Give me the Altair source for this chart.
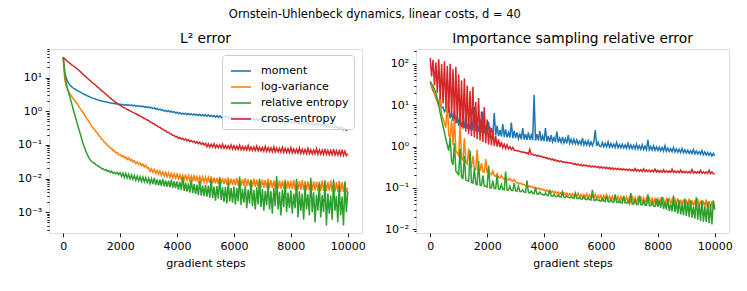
import altair as alt
import pandas as pd

steps = list(range(0, 10001, 50))
methods = ["moment", "log-variance", "relative entropy", "cross-entropy"]
colors = ["#1f77b4", "#ff7f0e", "#2ca02c", "#d62728"]

# ---- L2 error (left panel), one value every 50 gradient steps ----
l2_moment = [
    40, 15, 10, 7.8, 6.6, 5.8, 5.3, 4.9, 4.6, 4.35, 4.1, 3.9, 3.7, 3.5, 3.3, 3.15, 3.0, 2.87, 2.75, 2.62,
    2.5, 2.42, 2.37, 2.28, 2.22, 2.1, 2.07, 2.0, 1.99, 1.9, 1.9, 1.84, 1.83, 1.76, 1.77, 1.7, 1.72, 1.64, 1.65, 1.58,
    1.63, 1.53, 1.6, 1.52, 1.58, 1.49, 1.56, 1.47, 1.55, 1.45, 1.52, 1.42, 1.48, 1.39, 1.45, 1.35, 1.42, 1.32, 1.38, 1.28,
    1.34, 1.25, 1.3, 1.2, 1.26, 1.16, 1.21, 1.1, 1.16, 1.06, 1.1, 1.01, 1.06, 0.97, 1.03, 0.94, 1.0, 0.92, 0.97, 0.88,
    0.93, 0.85, 0.9, 0.82, 0.88, 0.81, 0.87, 0.79, 0.86, 0.78, 0.84, 0.77, 0.83, 0.76, 0.82, 0.75, 0.81, 0.73, 0.8, 0.72,
    0.79, 0.71, 0.78, 0.7, 0.76, 0.69, 0.75, 0.67, 0.74, 0.66, 0.73, 0.65, 0.72, 0.64, 0.71, 0.63, 0.7, 0.62, 0.69, 0.61,
    0.68, 0.6, 0.67, 0.59, 0.66, 0.58, 0.65, 0.57, 0.64, 0.56, 0.63, 0.55, 0.62, 0.55, 0.61, 0.54, 0.6, 0.53, 0.59, 0.52,
    0.58, 0.51, 0.57, 0.5, 0.56, 0.5, 0.55, 0.49, 0.54, 0.48, 0.54, 0.47, 0.53, 0.47, 0.52, 0.46, 0.51, 0.45, 0.51, 0.45,
    0.5, 0.44, 0.49, 0.44, 0.48, 0.43, 0.48, 0.42, 0.47, 0.42, 0.46, 0.41, 0.46, 0.4, 0.45, 0.4, 0.44, 0.39, 0.43, 0.38,
    0.42, 0.37, 0.41, 0.36, 0.4, 0.35, 0.39, 0.34, 0.38, 0.33, 0.37, 0.32, 0.35, 0.31, 0.34, 0.3, 0.33, 0.28, 0.31, 0.27,
    0.29]
l2_logvar = [
    40, 9.5, 5.6, 4.5, 3.7, 3.15, 2.7, 2.4, 2.1, 1.85, 1.6, 1.4, 1.2, 1.04, 0.9, 0.77, 0.66, 0.57, 0.49, 0.42,
    0.36, 0.315, 0.285, 0.245, 0.225, 0.19, 0.175, 0.148, 0.138, 0.118, 0.113, 0.096, 0.092, 0.08, 0.079, 0.067, 0.068, 0.058, 0.059, 0.05,
    0.052, 0.045, 0.048, 0.041, 0.044, 0.037, 0.041, 0.034, 0.037, 0.031, 0.034, 0.028, 0.031, 0.026, 0.029, 0.024, 0.027, 0.022, 0.025, 0.0205,
    0.021, 0.0165, 0.0195, 0.0152, 0.0185, 0.0142, 0.0172, 0.0135, 0.0166, 0.0125, 0.0158, 0.0119, 0.0155, 0.0112, 0.0148, 0.0108, 0.0142, 0.0104, 0.0138, 0.0101,
    0.0135, 0.0098, 0.0128, 0.0092, 0.0125, 0.009, 0.0131, 0.0088, 0.0122, 0.0085, 0.0118, 0.0083, 0.0126, 0.0082, 0.0115, 0.008, 0.0113, 0.0078, 0.0112, 0.0077,
    0.011, 0.0076, 0.0108, 0.0074, 0.0115, 0.0072, 0.0105, 0.0071, 0.0104, 0.007, 0.0112, 0.0068, 0.0102, 0.0068, 0.0101, 0.0066, 0.0108, 0.0065, 0.0099, 0.0064,
    0.0098, 0.0063, 0.0105, 0.0062, 0.0096, 0.0061, 0.0096, 0.006, 0.0102, 0.0059, 0.0094, 0.0058, 0.0093, 0.0057, 0.0099, 0.0056, 0.0092, 0.0055, 0.0091, 0.0055,
    0.0092, 0.0054, 0.009, 0.0053, 0.0097, 0.0052, 0.0089, 0.0052, 0.0088, 0.0051, 0.0094, 0.005, 0.0087, 0.005, 0.0086, 0.0049, 0.0092, 0.0049, 0.0085, 0.0048,
    0.0085, 0.0048, 0.0091, 0.0047, 0.0084, 0.0047, 0.0083, 0.0046, 0.009, 0.0046, 0.0083, 0.0045, 0.0082, 0.0045, 0.0088, 0.0044, 0.0082, 0.0044, 0.0081, 0.0043,
    0.0081, 0.0043, 0.0087, 0.0043, 0.008, 0.0042, 0.0079, 0.0042, 0.0086, 0.0041, 0.0079, 0.0041, 0.0078, 0.004, 0.0085, 0.004, 0.0078, 0.004, 0.0077, 0.0039,
    0.0052]
l2_relent = [
    40, 14, 7, 4.8, 3.3, 2.35, 1.65, 1.15, 0.81, 0.58, 0.41, 0.29, 0.21, 0.15, 0.107, 0.082, 0.063, 0.051, 0.042, 0.036,
    0.032, 0.0295, 0.0285, 0.0255, 0.0245, 0.0222, 0.022, 0.0196, 0.0196, 0.0178, 0.0186, 0.0162, 0.0172, 0.0152, 0.0166, 0.0143, 0.0153, 0.0137, 0.0151, 0.013,
    0.015, 0.0115, 0.0145, 0.0108, 0.014, 0.0103, 0.0133, 0.0098, 0.0128, 0.0094, 0.0123, 0.0089, 0.0118, 0.0086, 0.0114, 0.0082, 0.011, 0.0079, 0.0106, 0.0076,
    0.0102, 0.0071, 0.0099, 0.0068, 0.0104, 0.0065, 0.0094, 0.0063, 0.0092, 0.006, 0.0098, 0.0058, 0.0088, 0.0057, 0.0086, 0.0055, 0.0093, 0.0053, 0.0083, 0.0052,
    0.0082, 0.0047, 0.0079, 0.0045, 0.011, 0.0043, 0.0075, 0.0041, 0.0072, 0.0038, 0.0092, 0.0037, 0.0069, 0.0035, 0.0066, 0.0032, 0.0085, 0.0031, 0.0062, 0.003,
    0.0065, 0.0029, 0.0062, 0.0027, 0.0094, 0.0026, 0.0058, 0.0022, 0.006, 0.0025, 0.0105, 0.0023, 0.0055, 0.002, 0.0057, 0.0018, 0.0078, 0.0021, 0.0052, 0.0019,
    0.0058, 0.0017, 0.0052, 0.0021, 0.0115, 0.0016, 0.0049, 0.0019, 0.0062, 0.0013, 0.0047, 0.0018, 0.0088, 0.0015, 0.0045, 0.0012, 0.0055, 0.0017, 0.0098, 0.0014,
    0.0048, 0.0011, 0.0043, 0.0016, 0.0075, 0.0012, 0.0042, 0.0009, 0.0052, 0.0015, 0.0118, 0.0012, 0.004, 0.0008, 0.0047, 0.0014, 0.0082, 0.001, 0.0038, 0.0013,
    0.0045, 0.0009, 0.0036, 0.0013, 0.0098, 0.0007, 0.0042, 0.0011, 0.0035, 0.0006, 0.0065, 0.0012, 0.0034, 0.0008, 0.0105, 0.001, 0.0039, 0.0005, 0.0033, 0.0011,
    0.0072, 0.0007, 0.0032, 0.001, 0.0088, 0.0004, 0.0036, 0.0009, 0.0031, 0.0006, 0.0095, 0.0011, 0.003, 0.0005, 0.0062, 0.0008, 0.0029, 0.0004, 0.0082, 0.001,
    0.0042]
l2_crossent = [
    40, 36, 33, 30, 28, 26, 24, 22.5, 21, 19.5, 18, 16.5, 15, 13.7, 12.5, 11.5, 10.5, 9.6, 8.8, 8.1,
    7.4, 6.8, 6.3, 5.8, 5.3, 4.9, 4.5, 4.1, 3.8, 3.5, 3.2, 2.95, 2.7, 2.5, 2.3, 2.12, 1.95, 1.82, 1.7, 1.6,
    1.5, 1.41, 1.33, 1.26, 1.2, 1.13, 1.07, 1.02, 0.97, 0.92, 0.88, 0.84, 0.8, 0.76, 0.72, 0.68, 0.65, 0.61, 0.58, 0.55,
    0.53, 0.48, 0.47, 0.43, 0.42, 0.38, 0.375, 0.34, 0.335, 0.3, 0.296, 0.268, 0.266, 0.238, 0.236, 0.212, 0.21, 0.19, 0.19, 0.172,
    0.178, 0.158, 0.166, 0.148, 0.158, 0.14, 0.15, 0.132, 0.143, 0.125, 0.135, 0.12, 0.13, 0.113, 0.124, 0.108, 0.12, 0.104, 0.114, 0.099,
    0.11, 0.088, 0.107, 0.086, 0.104, 0.085, 0.108, 0.083, 0.1, 0.082, 0.099, 0.08, 0.104, 0.079, 0.096, 0.078, 0.095, 0.077, 0.1, 0.075,
    0.094, 0.074, 0.092, 0.073, 0.098, 0.072, 0.09, 0.071, 0.089, 0.07, 0.095, 0.069, 0.087, 0.068, 0.086, 0.068, 0.092, 0.067, 0.085, 0.066,
    0.084, 0.065, 0.09, 0.064, 0.083, 0.064, 0.082, 0.063, 0.087, 0.062, 0.08, 0.062, 0.079, 0.061, 0.085, 0.06, 0.078, 0.06, 0.077, 0.059,
    0.083, 0.058, 0.076, 0.058, 0.075, 0.057, 0.081, 0.056, 0.074, 0.056, 0.073, 0.055, 0.079, 0.055, 0.072, 0.054, 0.071, 0.054, 0.077, 0.053,
    0.071, 0.053, 0.07, 0.052, 0.076, 0.052, 0.069, 0.051, 0.068, 0.051, 0.074, 0.05, 0.067, 0.05, 0.066, 0.049, 0.072, 0.049, 0.065, 0.048,
    0.055]

# ---- Importance sampling relative error (right panel) ----
is_moment = [
    37, 28, 22, 19, 15, 14, 11, 12, 8.5, 9, 7, 8, 5.8, 9.5, 4.8, 6.5, 4.2, 7.5, 3.6, 5.5,
    3.2, 5.5, 3.0, 4.2, 2.8, 6, 2.7, 3.6, 2.5, 4.5, 2.45, 9, 2.35, 3.5, 2.3, 4.5, 2.2, 7, 2.1, 3.2,
    2.0, 4, 1.95, 2.8, 1.9, 6.5, 1.85, 3.2, 1.8, 2.5, 1.75, 3.5, 1.7, 2.6, 1.68, 2.2, 1.65, 3.8, 1.6, 2.4,
    1.6, 2.2, 1.55, 2.0, 1.5, 2.8, 1.48, 2.0, 1.45, 2.2, 1.45, 1.9, 1.42, 18, 1.4, 2.0, 1.4, 2.4, 1.38, 1.8,
    1.36, 2.8, 1.33, 1.8, 1.3, 1.9, 1.3, 1.65, 1.28, 2.3, 1.26, 1.6, 1.25, 1.7, 1.23, 1.55, 1.2, 1.9, 1.2, 1.5,
    1.18, 1.5, 1.16, 1.45, 1.14, 1.35, 1.12, 1.6, 1.1, 1.35, 1.08, 1.4, 1.06, 1.3, 1.05, 1.3, 2.5, 1.03, 1.28, 1.02,
    1.0, 1.25, 0.99, 1.2, 0.98, 1.3, 0.97, 1.18, 0.96, 1.15, 0.95, 1.25, 0.94, 1.12, 0.93, 1.15, 0.92, 1.1, 0.91, 1.2,
    0.9, 1.1, 0.89, 1.08, 0.88, 1.15, 0.87, 1.05, 0.86, 1.1, 0.85, 1.02, 0.84, 1.45, 0.83, 1.0, 0.82, 1.05, 0.81, 0.98,
    0.8, 0.97, 0.79, 0.95, 0.78, 1.05, 0.77, 0.92, 0.76, 0.9, 0.75, 0.95, 0.74, 0.88, 0.73, 0.86, 0.72, 0.9, 0.71, 0.84,
    0.7, 0.82, 0.69, 0.8, 0.68, 0.85, 0.67, 0.78, 0.66, 0.76, 0.65, 0.8, 0.63, 0.74, 0.62, 0.72, 0.61, 0.7, 0.59, 0.68,
    0.6]
is_logvar = [
    37, 30, 24, 19, 15, 12, 9.5, 18, 6, 4.7, 3.7, 2.9, 13, 1.9, 1.6, 4.5, 1.1, 5, 0.8, 0.7,
    0.6, 3.5, 0.52, 0.47, 1.6, 0.42, 0.38, 0.9, 0.34, 0.32, 0.6, 0.3, 0.28, 0.85, 0.27, 0.26, 0.4, 0.25, 0.24, 0.5,
    0.23, 0.3, 0.22, 0.21, 0.26, 0.2, 0.19, 0.22, 0.18, 0.175, 0.2, 0.17, 0.165, 0.18, 0.16, 0.155, 0.17, 0.15, 0.145, 0.16,
    0.14, 0.13, 0.135, 0.125, 0.13, 0.118, 0.122, 0.112, 0.118, 0.107, 0.112, 0.103, 0.108, 0.099, 0.104, 0.095, 0.1, 0.092, 0.096, 0.089,
    0.092, 0.082, 0.09, 0.08, 0.087, 0.077, 0.084, 0.075, 0.082, 0.073, 0.08, 0.071, 0.078, 0.069, 0.076, 0.068, 0.075, 0.066, 0.073, 0.065,
    0.073, 0.062, 0.072, 0.061, 0.075, 0.06, 0.07, 0.059, 0.069, 0.058, 0.072, 0.057, 0.068, 0.056, 0.067, 0.056, 0.07, 0.055, 0.066, 0.054,
    0.066, 0.052, 0.065, 0.051, 0.068, 0.05, 0.064, 0.05, 0.063, 0.049, 0.067, 0.048, 0.062, 0.048, 0.062, 0.047, 0.065, 0.047, 0.061, 0.046,
    0.06, 0.046, 0.064, 0.045, 0.059, 0.045, 0.058, 0.044, 0.063, 0.044, 0.057, 0.043, 0.057, 0.043, 0.061, 0.042, 0.056, 0.042, 0.055, 0.042,
    0.055, 0.041, 0.059, 0.041, 0.054, 0.04, 0.054, 0.04, 0.058, 0.04, 0.053, 0.039, 0.053, 0.039, 0.057, 0.038, 0.052, 0.038, 0.052, 0.038,
    0.051, 0.037, 0.055, 0.037, 0.05, 0.036, 0.05, 0.036, 0.054, 0.036, 0.049, 0.035, 0.049, 0.035, 0.053, 0.035, 0.048, 0.034, 0.048, 0.034,
    0.04]
is_relent = [
    37, 33, 29, 24, 20, 14, 10, 6.5, 4.5, 3.1, 2.2, 1.5, 1.1, 0.8, 1.6, 0.45, 0.36, 1.2, 0.26, 0.23,
    0.21, 0.9, 0.18, 0.17, 0.6, 0.155, 0.15, 0.145, 0.8, 0.135, 0.13, 0.3, 0.125, 0.12, 0.45, 0.118, 0.115, 0.2, 0.112, 0.11,
    0.105, 0.35, 0.1, 0.1, 0.15, 0.098, 0.096, 0.2, 0.094, 0.093, 0.12, 0.092, 0.09, 0.25, 0.089, 0.088, 0.11, 0.087, 0.086, 0.13,
    0.085, 0.084, 0.11, 0.082, 0.081, 0.09, 0.079, 0.078, 0.15, 0.077, 0.076, 0.085, 0.074, 0.073, 0.1, 0.072, 0.071, 0.08, 0.07, 0.069,
    0.067, 0.075, 0.066, 0.065, 0.09, 0.064, 0.063, 0.07, 0.062, 0.062, 0.068, 0.061, 0.06, 0.08, 0.06, 0.059, 0.064, 0.059, 0.058, 0.062,
    0.057, 0.056, 0.075, 0.056, 0.055, 0.06, 0.054, 0.054, 0.062, 0.053, 0.052, 0.058, 0.052, 0.051, 0.09, 0.051, 0.05, 0.055, 0.05, 0.049,
    0.048, 0.056, 0.048, 0.047, 0.065, 0.047, 0.046, 0.052, 0.046, 0.045, 0.07, 0.045, 0.044, 0.05, 0.044, 0.044, 0.062, 0.043, 0.043, 0.048,
    0.042, 0.075, 0.041, 0.041, 0.05, 0.04, 0.04, 0.065, 0.039, 0.039, 0.048, 0.038, 0.038, 0.07, 0.037, 0.037, 0.045, 0.036, 0.036, 0.055,
    0.035, 0.05, 0.033, 0.06, 0.031, 0.045, 0.03, 0.055, 0.028, 0.04, 0.027, 0.065, 0.026, 0.045, 0.024, 0.05, 0.023, 0.04, 0.022, 0.055,
    0.021, 0.045, 0.02, 0.05, 0.019, 0.035, 0.018, 0.06, 0.017, 0.04, 0.016, 0.05, 0.015, 0.035, 0.015, 0.045, 0.014, 0.04, 0.013, 0.05,
    0.03]
is_crossent = [
    140, 50, 125, 30, 110, 20, 130, 14, 100, 11, 115, 8.5, 90, 6.8, 100, 5.5, 75, 4.5, 85, 3.8,
    55, 3.2, 40, 2.7, 45, 2.3, 30, 2.0, 22, 1.8, 28, 1.65, 12, 1.5, 15, 1.4, 7, 1.3, 9, 1.2,
    4.5, 1.12, 3, 1.08, 2.5, 1.04, 1.8, 1.0, 1.5, 0.97, 1.3, 0.94, 1.15, 0.91, 1.1, 0.88, 1.0, 0.85, 0.95, 0.82,
    0.82, 0.78, 0.8, 0.75, 0.76, 0.72, 0.74, 0.69, 0.71, 0.66, 0.85, 0.64, 0.66, 0.61, 0.63, 0.59, 0.61, 0.57, 0.59, 0.55,
    0.56, 0.53, 0.54, 0.5, 0.52, 0.48, 0.5, 0.46, 0.48, 0.44, 0.46, 0.43, 0.45, 0.42, 0.43, 0.41, 0.42, 0.4, 0.41, 0.39,
    0.4, 0.37, 0.39, 0.36, 0.38, 0.35, 0.37, 0.34, 0.36, 0.34, 0.355, 0.33, 0.35, 0.32, 0.34, 0.32, 0.335, 0.31, 0.33, 0.305,
    0.325, 0.3, 0.32, 0.295, 0.315, 0.29, 0.31, 0.285, 0.305, 0.28, 0.3, 0.28, 0.3, 0.275, 0.295, 0.27, 0.29, 0.27, 0.285, 0.265,
    0.285, 0.26, 0.28, 0.258, 0.295, 0.255, 0.278, 0.252, 0.275, 0.25, 0.29, 0.25, 0.272, 0.248, 0.27, 0.246, 0.268, 0.245, 0.285, 0.244,
    0.265, 0.242, 0.262, 0.24, 0.275, 0.24, 0.26, 0.238, 0.258, 0.237, 0.285, 0.236, 0.257, 0.235, 0.255, 0.234, 0.27, 0.233, 0.254, 0.232,
    0.252, 0.231, 0.25, 0.23, 0.28, 0.229, 0.249, 0.228, 0.248, 0.227, 0.265, 0.226, 0.246, 0.225, 0.245, 0.224, 0.27, 0.223, 0.244, 0.222,
    0.22]

x_ticks = [0, 2000, 4000, 6000, 8000, 10000]
x_domain = [-500, 10500]
l2_domain = [10 ** -3.62, 10 ** 1.85]
is_domain = [10 ** -2.09, 10 ** 2.36]
superscripts = {-3: "10\u207b\u00b3", -2: "10\u207b\u00b2", -1: "10\u207b\u00b9", 0: "10\u2070",
                1: "10\u00b9", 2: "10\u00b2"}

FONT = "DejaVu Sans"


def long_table(series):
    rows = []
    for m, vals in zip(methods, series):
        assert len(vals) == len(steps), (m, len(vals))
        for s, v in zip(steps, vals):
            rows.append({"step": s, "value": v, "method": m})
    return pd.DataFrame(rows)


def log_ticks(domain):
    vals = []
    for e in range(-5, 4):
        for m in range(1, 10):
            v = float(f"{m}e{e}")
            if domain[0] <= v <= domain[1]:
                vals.append(v)
    return vals


E = "round(log(datum.value)/LN10)"
MAJOR = f"abs(log(datum.value)/LN10 - {E}) < 1e-6"


def label_expr():
    expr = "''"
    for e, s in superscripts.items():
        expr = f"({E} == {e}) ? '{s}' : {expr}"
    return f"({MAJOR}) ? ({expr}) : ''"


def panel(series, domain, title, with_legend):
    df = long_table(series)
    yaxis = alt.Axis(
        values=log_ticks(domain), labelExpr=label_expr(), grid=False, domain=False,
        tickSize={"condition": {"test": MAJOR, "value": 3.8}, "value": 2.2},
        tickWidth=0.9, tickColor="black", labelFontSize=11, labelColor="black",
        labelPadding=3.5, title=None, labelFont=FONT,
    )
    xaxis = alt.Axis(
        values=x_ticks, format="d", grid=False, domain=False, tickSize=3.8, tickWidth=0.9,
        tickColor="black", labelFontSize=11, labelColor="black", labelPadding=3.5,
        title="gradient steps", titleFontSize=11, titleFontWeight="normal", titleColor="black",
        titlePadding=6, labelFont=FONT, titleFont=FONT,
    )
    if with_legend:
        legend = alt.Legend(
            orient="none", legendX=173, legendY=6, title=None, symbolType="stroke",
            symbolSize=400, symbolStrokeWidth=1.6, symbolOffset=3, labelFontSize=11, labelFont=FONT,
            labelColor="black", strokeColor="#cccccc", fillColor="rgba(255,255,255,0.8)",
            padding=5, cornerRadius=3, labelOffset=9, rowPadding=-1, labelLimit=300,
        )
    else:
        legend = None
    layers = []
    for m in methods:
        layers.append(
            alt.Chart(df)
            .transform_filter(alt.datum.method == m)
            .mark_line(strokeWidth=1.5, clip=True)
            .encode(
                x=alt.X("step:Q", scale=alt.Scale(domain=x_domain, nice=False, zero=False), axis=xaxis),
                y=alt.Y("value:Q", scale=alt.Scale(type="log", domain=domain, nice=False), axis=yaxis),
                color=alt.Color("method:N", scale=alt.Scale(domain=methods, range=colors), legend=legend),
            )
        )
    return alt.layer(*layers).properties(
        width=313, height=184,
        title=alt.TitleParams(title, fontSize=13.8, fontWeight="normal", font=FONT, color="black", offset=3),
    )


left = panel([l2_moment, l2_logvar, l2_relent, l2_crossent], l2_domain, "L\u00b2 error", True)
right = panel([is_moment, is_logvar, is_relent, is_crossent], is_domain, "Importance sampling relative error", False)

chart = (
    alt.hconcat(left, right, spacing=17)
    .resolve_scale(x="independent", y="independent", color="independent")
    .resolve_legend(color="independent")
    .properties(
        title=alt.TitleParams("Ornstein-Uhlenbeck dynamics, linear costs, d = 40", fontSize=11.5,
                              fontWeight="normal", font=FONT, color="black", anchor="middle", offset=11),
        padding={"left": 8, "top": 0, "right": 5, "bottom": 5},
    )
    .configure_view(stroke="black", strokeWidth=0.9)
    .configure(font=FONT, background="white")
)

chart.save("out.html", embed_options={"renderer": "svg", "actions": False})
